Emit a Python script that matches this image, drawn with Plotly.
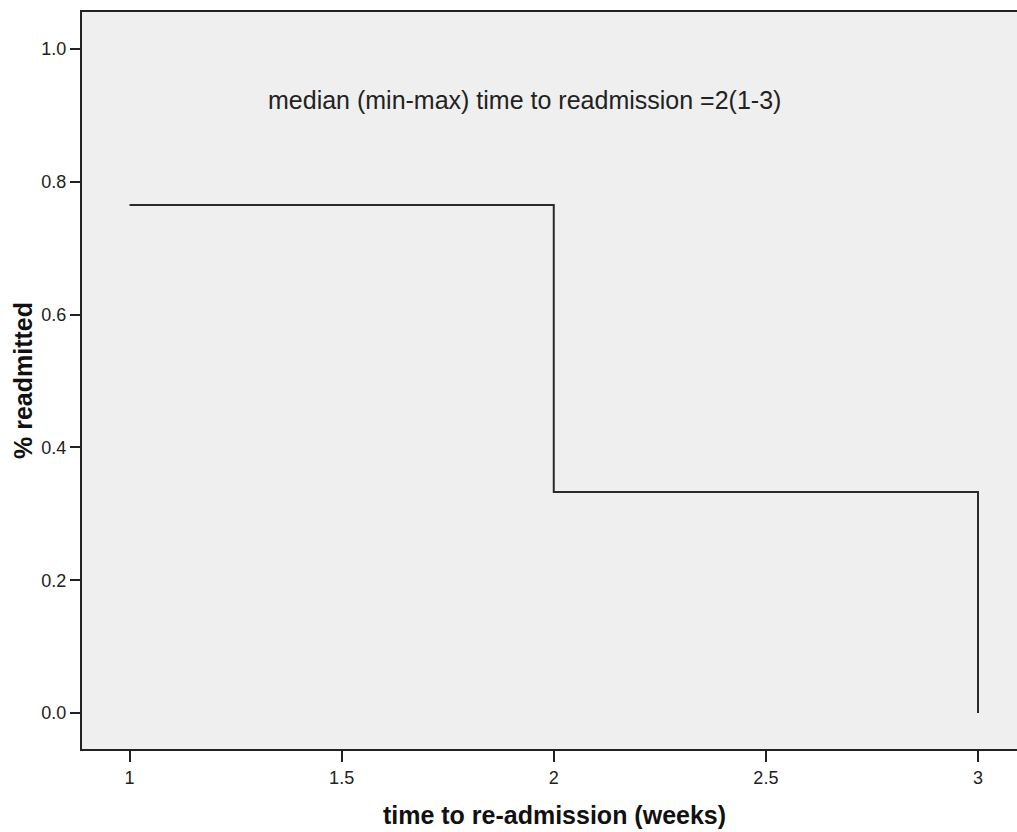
import plotly.graph_objects as go

weeks = [1, 2, 3]
pct_readmitted = [0.765, 0.333, 0.0]
x_ticks = [1, 1.5, 2, 2.5, 3]
x_tick_labels = ["1", "1.5", "2", "2.5", "3"]
y_ticks = [0.0, 0.2, 0.4, 0.6, 0.8, 1.0]
y_tick_labels = ["0.0", "0.2", "0.4", "0.6", "0.8", "1.0"]
note = "median (min-max) time to readmission =2(1-3)"

fig = go.Figure()
fig.add_trace(go.Scatter(
    x=weeks, y=pct_readmitted, mode="lines", line_shape="hv",
    line=dict(color="#2a2a2a", width=2), showlegend=False, hoverinfo="skip"))

fig.add_annotation(text=note, x=1.932, xref="x", y=0.923, yref="y",
                   showarrow=False, font=dict(family="Arial, Liberation Sans", size=25, color="#222222"))

axis_font = dict(family="Arial, Liberation Sans", size=18, color="#222222")
title_font = dict(family="Arial, Liberation Sans", size=25, color="#111111")
fig.update_layout(
    width=1027, height=832,
    margin=dict(l=82, r=0, t=12, b=83),
    paper_bgcolor="white", plot_bgcolor="#EFEFEF",
    xaxis=dict(range=[0.888, 3.1155], tickvals=x_ticks, ticktext=x_tick_labels,
               showgrid=False, zeroline=False, showline=True, linecolor="#222222", linewidth=2,
               mirror=True, ticks="outside", ticklen=11, tickwidth=2, tickcolor="#222222",
               tickfont=axis_font,
               title=dict(text="<b>time to re-admission (weeks)</b>", standoff=20, font=title_font)),
    yaxis=dict(range=[-0.0542, 1.0557], tickvals=y_ticks, ticktext=y_tick_labels,
               showgrid=False, zeroline=False, showline=True, linecolor="#222222", linewidth=2,
               ticks="outside", ticklen=10, tickwidth=2, tickcolor="#222222",
               tickfont=axis_font,
               title=dict(text="<b>% readmitted</b>", standoff=2, font=title_font)),
)

fig.write_html("out.html", config={"displayModeBar": False, "responsive": False},
               post_script="document.body.style.margin='0';document.body.style.overflow='hidden';")
